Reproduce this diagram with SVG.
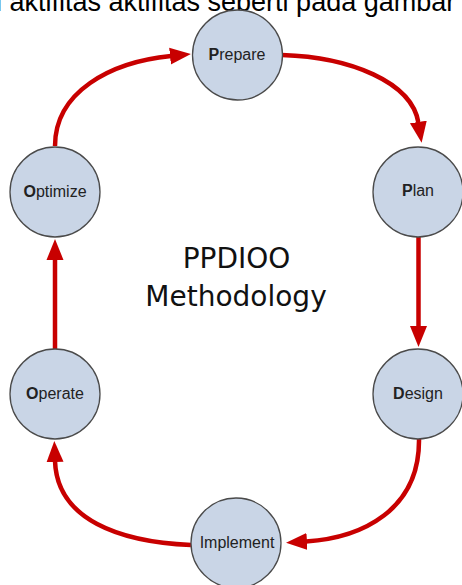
<svg xmlns="http://www.w3.org/2000/svg" width="462" height="585" viewBox="0 0 462 585">
<style>
.node circle{fill:#c9d5e6;stroke:#4a4a4a;stroke-width:1.3}
.node text{font-family:"Liberation Sans",Arial,sans-serif;font-size:16px;fill:#222;text-anchor:middle}
.node tspan.b{font-weight:bold}
.conn path{fill:none;stroke:#c80000;stroke-width:4.5}
.title{font-family:"DejaVu Sans",Verdana,sans-serif;font-size:28px;fill:#111;text-anchor:middle}
.top{font-family:"Liberation Sans",Arial,sans-serif;font-size:27px;fill:#000}
</style>
<defs>
<marker id="ah" markerUnits="userSpaceOnUse" viewBox="0 -9 21 18" markerWidth="21" markerHeight="18" refX="1" refY="0" orient="auto">
<path d="M0,-8.5 L21,0 L0,8.5 z" fill="#c80000"/>
</marker>
</defs>
<rect width="462" height="585" fill="#fff"/>
<text class="top" x="-4" y="11">i aktifitas aktifitas seperti pada gambar</text>
<g id="connectors" class="conn">
<path d="M282,55 C350,57 412,82 418.5,123" marker-end="url(#ah)"/>
<path d="M418.5,237 L418.5,327" marker-end="url(#ah)"/>
<path d="M419,439 C420,510 362,538 306,541.5" marker-end="url(#ah)"/>
<path d="M191,545 C120,542 57,520 55,461" marker-end="url(#ah)"/>
<path d="M55,349 L55,259" marker-end="url(#ah)"/>
<path d="M55,146 C55,92 110,62 171,56" marker-end="url(#ah)"/>
</g>
<g id="prepare" class="node"><circle cx="237.5" cy="55" r="45"/><text x="237" y="59.5"><tspan class="b">P</tspan>repare</text></g>
<g id="plan" class="node"><circle cx="418" cy="192" r="45"/><text x="418" y="196"><tspan class="b">P</tspan>lan</text></g>
<g id="design" class="node"><circle cx="418" cy="394" r="45"/><text x="418" y="399"><tspan class="b">D</tspan>esign</text></g>
<g id="implement" class="node"><circle cx="236" cy="543" r="45"/><text x="237" y="548">Implement</text></g>
<g id="operate" class="node"><circle cx="55" cy="394" r="45"/><text x="55" y="399"><tspan class="b">O</tspan>perate</text></g>
<g id="optimize" class="node"><circle cx="55" cy="192" r="45"/><text x="55" y="196.5"><tspan class="b">O</tspan>ptimize</text></g>
<text class="title" x="236.5" y="268">PPDIOO</text>
<text class="title" x="236" y="306">Methodology</text>
</svg>
